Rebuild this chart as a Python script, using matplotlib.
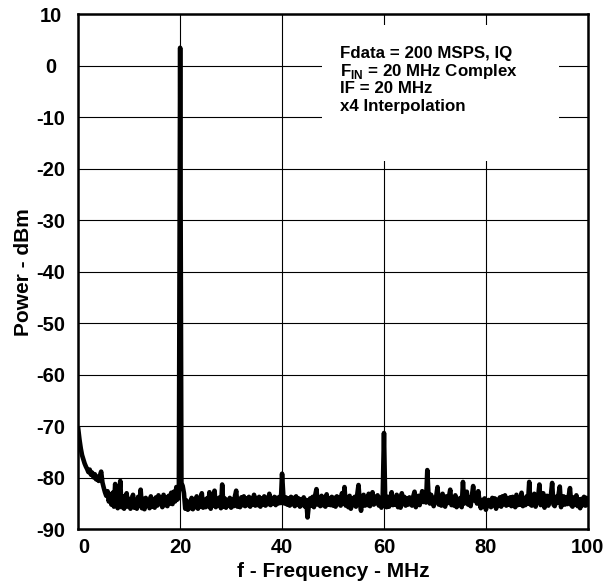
import numpy as np
import matplotlib
matplotlib.use('Agg')
import matplotlib.pyplot as plt
from matplotlib.patches import Rectangle

plt.rcParams['font.family'] = ['Liberation Sans', 'DejaVu Sans']
plt.rcParams['font.weight'] = 'bold'
plt.rcParams['axes.unicode_minus'] = False
plt.rcParams['mathtext.fontset'] = 'custom'
plt.rcParams['mathtext.rm'] = 'Liberation Sans:bold'
plt.rcParams['mathtext.bf'] = 'Liberation Sans:bold'

# spectrum, 0.25 MHz per bin, 0 .. 100 MHz (one row = 5 MHz)
power_dbm = [
    -70.5, -72.6, -74.3, -75.6, -76.4, -77.2, -77.8, -78.3, -78.9, -78.4,
    -79.4, -79.0, -79.9, -79.3, -80.3, -79.8, -80.6, -79.6, -78.8, -80.9,
    -81.9, -82.8, -83.5, -82.6, -84.6, -83.2, -85.2, -82.9, -85.6, -81.2,
    -84.8, -85.9, -84.0, -80.6, -85.7, -83.6, -86.0, -83.9, -83.0, -85.6,
    -84.1, -86.0, -84.3, -83.3, -85.8, -84.6, -86.0, -83.7, -85.4, -82.3,
    -85.9, -84.1, -86.1, -83.9, -85.3, -84.4, -85.9, -83.6, -85.6, -84.2,
    -85.8, -83.8, -85.4, -83.4, -85.1, -84.0, -85.7, -83.3, -85.3, -83.8,
    -85.5, -83.5, -85.0, -82.9, -85.1, -82.7, -84.6, -81.8, -84.2, -82.5,
    3.5, -81.0, -81.6, -83.0, -86.0, -84.4, -86.2, -84.7, -85.9, -83.9,
    -86.1, -84.2, -85.7, -83.6, -86.0, -84.5, -85.6, -83.0, -85.8, -84.3,
    -85.7, -84.0, -85.5, -82.8, -86.0, -84.4, -85.4, -82.5, -85.7, -84.1,
    -85.4, -83.8, -85.9, -81.3, -85.6, -84.0, -85.8, -84.3, -85.4, -83.9,
    -85.8, -84.2, -85.5, -83.6, -82.5, -85.6, -84.3, -85.7, -83.8, -85.3,
    -83.6, -85.5, -84.0, -85.3, -83.7, -85.6, -84.1, -85.2, -83.3, -85.4,
    -84.1, -85.3, -83.7, -85.6, -84.0, -85.2, -83.6, -85.4, -83.9, -85.1,
    -83.1, -85.3, -84.0, -85.0, -83.7, -85.3, -83.9, -85.0, -83.7, -84.9,
    -79.2, -83.5, -85.0, -83.8, -85.2, -84.0, -85.4, -83.7, -85.1, -83.9,
    -85.5, -83.6, -85.2, -84.0, -85.6, -84.2, -85.3, -83.8, -85.6, -84.3,
    -87.7, -85.3, -84.0, -85.4, -83.7, -85.7, -83.4, -82.2, -85.2, -83.9,
    -85.5, -83.5, -85.3, -83.8, -85.6, -83.2, -85.2, -84.0, -85.3, -83.7,
    -85.4, -83.9, -85.6, -83.6, -85.1, -83.8, -85.4, -83.0, -85.0, -81.8,
    -85.4, -83.9, -85.7, -83.5, -86.0, -84.0, -85.3, -83.7, -85.6, -83.3,
    -81.4, -84.8, -86.4, -83.7, -83.3, -85.4, -83.9, -85.3, -83.1, -85.5,
    -84.0, -82.8, -85.2, -83.7, -84.9, -83.4, -85.4, -83.9, -85.8, -83.6,
    -71.3, -85.0, -85.7, -83.7, -85.6, -84.1, -82.8, -85.3, -83.8, -85.2,
    -83.3, -85.7, -83.9, -85.8, -83.0, -85.1, -83.7, -85.4, -84.0, -85.2,
    -83.8, -85.0, -85.4, -83.6, -82.7, -85.7, -84.2, -83.5, -85.3, -83.9,
    -82.6, -84.7, -83.3, -84.8, -78.5, -83.6, -85.0, -83.3, -84.6, -85.5,
    -84.2, -83.6, -81.8, -85.2, -83.9, -85.4, -83.1, -85.1, -85.6, -83.6,
    -84.9, -83.7, -82.3, -85.3, -83.9, -85.4, -83.4, -85.7, -84.1, -85.3,
    -83.9, -85.7, -80.8, -85.0, -83.8, -82.7, -85.2, -83.9, -85.5, -83.5,
    -81.6, -84.4, -83.1, -85.0, -82.6, -84.7, -85.9, -84.3, -85.5, -84.0,
    -86.2, -85.2, -84.3, -84.4, -85.7, -83.9, -85.3, -84.0, -86.0, -84.3,
    -85.4, -83.8, -85.6, -83.6, -85.1, -83.4, -85.4, -84.0, -85.2, -83.8,
    -85.5, -83.7, -85.0, -85.7, -83.3, -85.3, -83.9, -85.2, -82.9, -85.5,
    -84.0, -85.3, -83.6, -85.0, -80.8, -85.2, -85.4, -83.6, -83.1, -85.6,
    -84.3, -83.7, -81.3, -85.3, -84.0, -83.0, -85.8, -84.2, -83.5, -85.4,
    -84.1, -83.4, -81.0, -85.2, -85.5, -83.7, -84.9, -83.3, -81.7, -85.7,
    -83.9, -83.6, -85.2, -83.8, -85.1, -83.5, -82.0, -85.3, -85.6, -83.8,
    -85.2, -83.4, -85.5, -84.2, -85.9, -84.1, -85.3, -83.7, -85.4, -83.9,
    -85.2,
]
freq_mhz = np.linspace(0, 100, len(power_dbm))

x_ticks = [0, 20, 40, 60, 80, 100]
y_ticks = [10, 0, -10, -20, -30, -40, -50, -60, -70, -80, -90]
notes = ['Fdata = 200 MSPS, IQ',
         r'F$_{\mathbf{IN}}$ = 20 MHz Complex',
         'IF = 20 MHz',
         'x4 Interpolation']

fig = plt.figure(figsize=(6.05, 5.83), dpi=100)
ax = fig.add_axes([0.1293, 0.0921, 0.8423, 0.8834])

ax.plot(freq_mhz, power_dbm, color='black', lw=3.3, zorder=3)

ax.set_xlim(0, 100)
ax.set_ylim(-90, 10)
ax.set_xticks(x_ticks)
ax.set_yticks(y_ticks)
ax.grid(True, color='black', lw=0.8, zorder=0)
ax.set_axisbelow(True)

# white patch behind the notes
ax.add_patch(Rectangle((47.9, -18.5), 46.4, 26.4, facecolor='white',
                       edgecolor='none', zorder=1))
for i, line in enumerate(notes):
    ax.text(51.3, 2.3 - 3.4 * i, line, fontsize=12.2, fontweight='bold',
            va='center', ha='left', zorder=4)

for s in ax.spines.values():
    s.set_linewidth(1.8)
ax.tick_params(length=0, labelsize=14.5)
ax.tick_params(axis='x', pad=6)
ax.tick_params(axis='y', pad=20)
for lab in ax.get_yticklabels():
    lab.set_ha('center')
ax.get_xticklabels()[0].set_ha('left')

ax.set_xlabel('f - Frequency - MHz', fontsize=15, fontweight='bold', labelpad=4)
ax.set_ylabel('Power - dBm', fontsize=15, fontweight='bold', labelpad=2)

fig.savefig('out.png', dpi=100)
